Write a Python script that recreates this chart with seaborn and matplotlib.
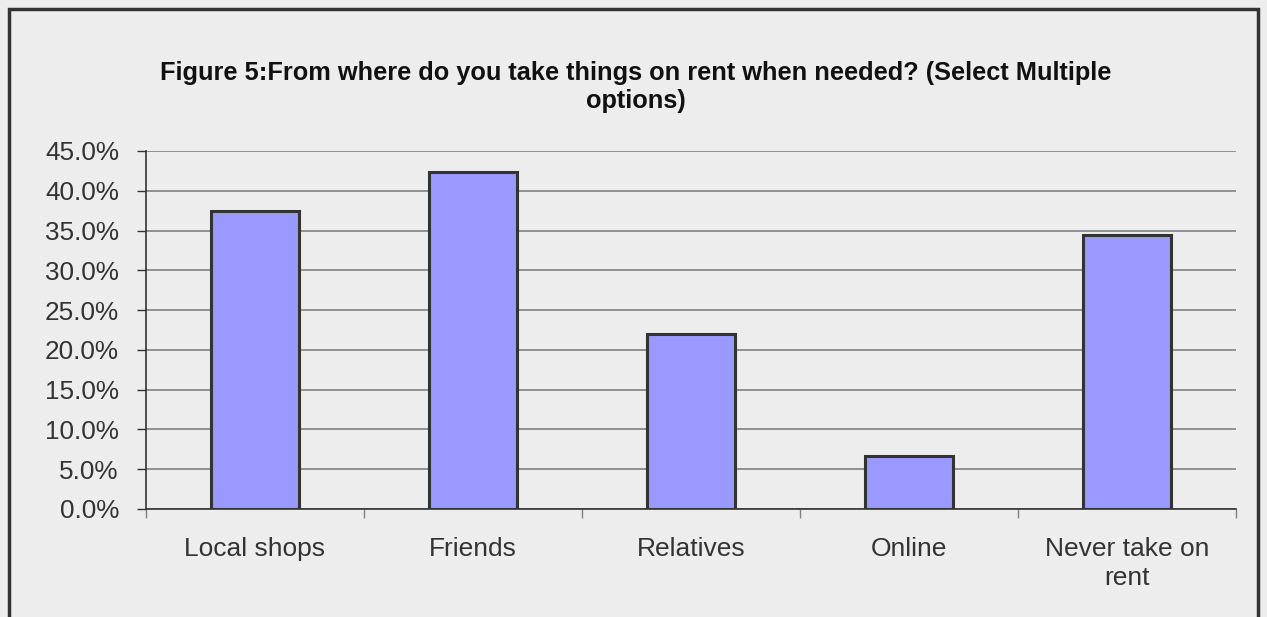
import matplotlib
matplotlib.use("Agg")
import matplotlib.pyplot as plt
import seaborn as sns
import pandas as pd
from matplotlib.patches import Rectangle
from matplotlib.ticker import FuncFormatter
import numpy as np

categories = ["Local shops", "Friends", "Relatives", "Online", "Never take on\nrent"]
values = [37.5, 42.4, 22.0, 6.7, 34.4]
y_ticks = [0, 5, 10, 15, 20, 25, 30, 35, 40, 45]
title = "Figure 5:From where do you take things on rent when needed? (Select Multiple\noptions)"

sns.set_theme(style="white")
plt.rcParams['font.family'] = ['Liberation Sans', 'DejaVu Sans']

bg = "#EDEDED"
fig = plt.figure(figsize=(12.67, 6.17), dpi=100, facecolor=bg)
ax = fig.add_axes([146/1267, 1-509/617, (1236-146)/1267, (509-151)/617])
ax.set_facecolor(bg)

df = pd.DataFrame({"cat": categories, "val": values})
sns.barplot(data=df, x="cat", y="val", ax=ax, color="#9999FF", width=0.4,
            edgecolor="#333333", linewidth=2.2, saturation=1, zorder=3)

ax.set_ylim(0, 45)
ax.set_xlim(-0.5, len(categories) - 0.5)
ax.set_yticks(y_ticks)
ax.yaxis.set_major_formatter(FuncFormatter(lambda v, p: f"{v:.1f}%"))
ax.grid(axis="y", color="#808080", linewidth=1.2, zorder=0)
ax.set_axisbelow(True)
for s in ["top", "right"]:
    ax.spines[s].set_visible(False)
for s in ["left", "bottom"]:
    ax.spines[s].set_color("#333333")
    ax.spines[s].set_linewidth(1.2)
ax.set_xlabel("")
ax.set_ylabel("")

# x ticks at category boundaries
ax.set_xticks(np.arange(-0.5, len(categories), 1), minor=True)
ax.tick_params(axis="x", which="minor", length=6.5, width=1, color="#808080", direction="out", bottom=True)
ax.tick_params(axis="x", which="major", length=0, pad=20, labelsize=19, labelcolor="#333333")
ax.tick_params(axis="y", which="major", length=6.5, width=1, color="#333333", direction="out", left=True,
               pad=13, labelsize=18.8, labelcolor="#333333")
ax.set_xticks(range(len(categories)))
ax.set_xticklabels(categories, linespacing=1.25)

fig.text(636/1267, 1-87/617, title, ha="center", va="center", fontsize=18.3,
         fontweight="bold", color="#111111", linespacing=1.2)

# outer border
fig.patches.append(Rectangle((9/1267, -0.05), (1258-9)/1267, 1.05 - 9/617,
                             transform=fig.transFigure, fill=False,
                             edgecolor="#333333", linewidth=2.5))

fig.savefig("out.png", dpi=100, facecolor=bg)
